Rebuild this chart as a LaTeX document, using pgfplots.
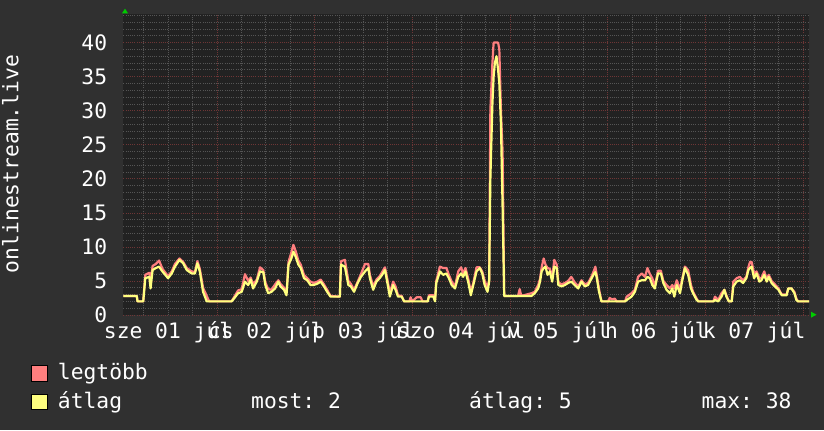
\documentclass[border=0pt]{standalone}
\usepackage{fontspec}
\setmainfont{DejaVu Sans Mono}
\usepackage{pgfplots}
\usepackage{pgfplotstable}
\pgfplotsset{compat=1.18}
\frenchspacing
\definecolor{canvas}{HTML}{303030}
\definecolor{plotbg}{HTML}{222222}
\definecolor{mingrid}{HTML}{555555}
\definecolor{majgrid}{HTML}{6E3636}
\definecolor{maxcol}{HTML}{FF7F7F}
\definecolor{avgcol}{HTML}{FFFF7F}
\definecolor{arrowgreen}{HTML}{00CC00}
\newcommand\bigf{\fontsize{21.3bp}{25bp}\selectfont}
\pgfplotstableread{
h avg max
1.0 2.8 2.8
4.3 2.8 2.8
4.5 2.0 2.0
5.9 2.0 2.0
6.4 5.4 5.9
7.4 5.6 6.2
7.7 3.9 5.0
8.2 6.6 7.2
9.0 6.9 7.5
9.8 7.1 8.0
10.6 6.4 6.8
12.0 5.4 5.7
12.9 6.1 6.4
13.7 7.1 7.5
14.8 8.1 8.3
15.7 7.6 7.8
16.6 6.6 6.9
17.8 6.1 6.4
18.6 6.1 6.3
19.2 7.6 7.9
19.8 6.4 6.8
20.6 3.4 4.0
21.5 2.0 2.8
22.1 2.0 2.0
27.6 2.0 2.0
28.2 2.4 2.6
29.2 3.2 3.6
30.1 3.4 3.8
30.9 4.9 6.0
31.7 4.4 5.0
32.3 5.2 5.5
32.9 3.9 4.5
33.8 4.9 5.2
34.6 6.4 7.0
35.4 6.3 6.6
35.9 4.4 4.8
36.6 3.2 3.8
37.4 3.4 3.7
38.3 3.9 4.5
39.1 4.9 5.1
39.6 4.2 4.6
40.5 3.7 4.0
41.1 2.9 3.2
41.6 7.4 7.8
42.3 8.3 9.2
42.8 9.3 10.3
43.4 8.5 9.3
44.0 7.4 8.0
44.6 6.9 7.4
45.4 5.4 5.9
46.2 5.1 5.4
47.0 4.4 4.9
47.8 4.4 4.7
48.7 4.6 4.9
49.5 4.9 5.2
50.3 4.2 4.5
51.1 3.4 3.7
51.9 2.7 2.8
54.2 2.7 2.7
54.5 7.4 7.9
55.45 7.1 8.1
56.3 4.4 5.0
56.9 4.2 4.6
57.7 3.4 3.7
58.6 4.7 4.9
59.4 5.6 6.0
60.4 6.4 7.5
61.2 6.9 7.5
61.6 5.4 5.9
62.4 3.7 4.2
63.2 4.9 5.2
64.0 5.4 5.7
64.6 5.9 6.3
65.3 6.6 7.0
65.9 4.7 5.2
66.5 2.7 3.2
67.3 4.4 4.9
67.9 3.7 4.2
68.5 2.7 2.9
69.4 2.7 2.8
70.0 2.0 2.0
71.3 2.0 2.0
71.6 2.0 2.6
72.0 2.0 2.0
73.1 2.0 2.6
74.1 2.0 2.6
74.5 2.0 2.0
75.8 2.0 2.0
76.1 2.7 2.9
77.2 2.7 2.9
77.6 2.0 2.2
77.9 4.7 5.0
78.8 6.4 7.1
79.6 5.9 6.9
80.4 6.1 6.9
81.0 5.4 5.9
81.7 4.4 4.9
82.5 3.9 4.2
83.3 5.6 6.4
84.0 6.1 7.0
84.5 5.6 6.1
85.1 6.4 6.9
85.8 4.7 5.2
86.4 2.9 3.4
87.0 4.4 4.7
87.8 6.4 7.0
88.6 6.9 7.0
89.2 6.1 6.4
89.8 4.4 5.0
90.5 3.4 4.0
90.9 4.9 5.2
91.2 20 30
91.7 31 37
92.0 35 40
92.3 37 40
92.7 38 40
93.1 36 40
93.4 34 39
93.8 28 30
94.2 16 24
94.6 2.8 2.8
98.0 2.8 2.8
98.4 2.8 3.8
98.8 2.8 2.8
101.3 2.8 3.2
102.1 3.2 3.4
102.95 3.9 4.4
103.4 4.9 5.3
103.8 6.4 7.0
104.3 6.9 8.3
104.75 7.1 7.4
105.25 5.9 6.9
105.8 6.4 6.8
106.4 4.9 5.4
106.9 7.1 8.1
107.5 6.9 7.4
107.9 4.4 4.8
108.7 4.2 4.5
109.5 4.4 4.7
110.3 4.7 5.0
111.1 4.9 5.6
111.9 4.4 4.8
112.8 3.9 4.2
113.6 4.9 5.1
114.4 4.2 4.5
115.2 4.4 4.7
116.1 5.4 5.7
116.7 6.1 6.6
117.0 6.3 7.1
117.3 5.6 6.0
117.9 3.4 3.8
118.5 2.0 2.0
120.2 2.0 2.0
120.5 2.0 2.5
121.1 2.0 2.3
121.8 2.0 2.4
122.2 2.0 2.0
124.3 2.0 2.0
124.7 2.2 2.7
125.9 2.7 3.2
126.7 3.4 3.7
127.5 4.9 5.6
128.4 5.1 6.1
129.2 5.1 5.6
129.8 5.6 6.9
130.4 5.4 6.0
131.0 4.4 5.4
131.6 3.9 4.2
132.4 6.1 6.5
133.1 6.1 6.5
133.7 4.7 5.0
134.5 3.7 4.4
135.3 3.2 3.9
135.9 3.9 4.4
136.4 2.7 3.9
137.0 4.4 5.1
137.8 3.2 3.7
138.3 4.9 5.2
139.0 6.9 7.1
139.8 5.9 6.6
140.5 3.9 4.4
141.0 3.2 3.4
141.9 2.2 2.4
142.3 2.0 2.0
146.0 2.0 2.0
146.4 2.2 2.7
147.2 2.0 2.2
148.0 2.7 3.2
148.7 3.7 3.7
149.2 2.7 2.9
149.8 2.0 2.0
150.5 2.0 2.0
150.9 4.2 4.9
151.7 4.9 5.4
152.5 5.1 5.6
153.3 4.7 5.1
154.1 5.4 5.6
154.6 6.6 7.0
155.0 6.9 7.8
155.4 7.1 7.8
156.0 5.4 6.1
156.6 6.1 6.4
157.3 4.9 5.4
157.8 5.1 5.4
158.5 5.9 6.4
159.1 4.9 5.2
159.6 5.6 5.9
160.3 4.7 5.0
161.1 4.2 4.5
162.0 3.7 3.9
162.8 2.9 3.0
164.0 2.9 3.0
164.4 3.9 3.9
165.2 3.9 3.9
165.9 3.2 3.4
166.4 2.2 2.4
166.8 2.0 2.0
169.5 2.0 2.0
}\data
\begin{document}
\begin{tikzpicture}[x=1bp,y=1bp]
\fill[canvas] (0,0) rectangle (824,430);
\useasboundingbox (0,0) rectangle (824,430);
\begin{axis}[
  at={(123.3bp,115bp)}, anchor=south west,
  scale only axis, width=685.7bp, height=301bp,
  xmin=1.0, xmax=169.5, ymin=0, ymax=44.2,
  axis background/.style={fill=plotbg},
  axis line style={draw=none},
  major tick length=0pt, minor tick length=0pt,
  xtick={24,48,72,96,120,144,168}, xticklabels={},
  minor xtick={6,12,18,30,36,42,54,60,66,78,84,90,102,108,114,126,132,138,150,156,162},
  extra x ticks={12,36,60,84,108,132,156},
  extra x tick labels={sze 01 júl,cs 02 júl,p 03 júl,szo 04 júl,v 05 júl,h 06 júl,k 07 júl},
  extra x tick style={grid=none},
  ytick={0,5,...,40},
  minor ytick={1,2,3,4,6,7,8,9,11,12,13,14,16,17,18,19,21,22,23,24,26,27,28,29,31,32,33,34,36,37,38,39,41,42,43,44},
  grid=both,
  major grid style={draw=majgrid, line width=0.7bp, dash pattern=on 1bp off 1.2bp},
  minor grid style={draw=mingrid, line width=0.7bp, dash pattern=on 1bp off 1.2bp},
  tick label style={font=\bigf, text=white},
  /pgf/number format/assume math mode=true,
  yticklabel style={anchor=east, inner sep=0pt, xshift=-16bp},
  xticklabel style={anchor=base, inner sep=0pt, yshift=-23bp},
]
\addplot[maxcol, line width=2.2bp, line join=round] table[x=h,y=max] {\data};
\addplot[avgcol, line width=2.2bp, line join=round] table[x=h,y=avg] {\data};
\end{axis}
% axis arrows
\fill[arrowgreen] (125,421.3) -- (122,416.7) -- (128,416.7) -- cycle;
\fill[arrowgreen] (816.5,115.3) -- (811,118.3) -- (811,112.3) -- cycle;
% y label
\node[rotate=90, anchor=base, inner sep=0pt, text=white, font=\bigf] at (18.3,266) {onlinestream.live};
% legend
\filldraw[fill=maxcol, draw=black, line width=0.8bp] (31.5,49) rectangle (47.3,64.3);
\filldraw[fill=avgcol, draw=black, line width=0.8bp] (31.5,20.7) rectangle (47.3,36);
\node[anchor=base west, inner sep=0pt, text=white, font=\bigf] at (57.8,51) {legtöbb};
\node[anchor=base west, inner sep=0pt, text=white, font=\bigf] at (57.8,21.7) {átlag};
\node[anchor=base west, inner sep=0pt, text=white, font=\bigf] at (251,21.7) {most: 2};
\node[anchor=base west, inner sep=0pt, text=white, font=\bigf] at (469,21.7) {átlag: 5};
\node[anchor=base west, inner sep=0pt, text=white, font=\bigf] at (701.5,21.7) {max: 38};
\end{tikzpicture}
\end{document}
